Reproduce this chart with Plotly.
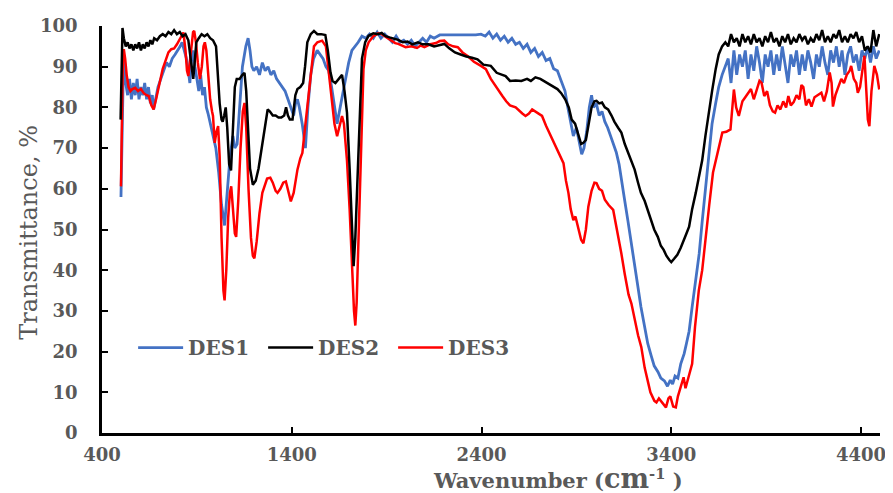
import plotly.graph_objects as go

# ---------------- data ----------------
series_names = ["DES1", "DES2", "DES3"]
series_colors = ["#4472C4", "#000000", "#FF0000"]

wn_des1 = [500, 505, 512, 518, 525, 535, 545, 555, 565, 575,
           585, 595, 605, 615, 625, 635, 645, 655, 665, 672,
           682, 695, 710, 725, 740, 755, 770, 785, 800, 812,
           822, 835, 845, 855, 863, 872, 880, 890, 900, 910,
           920, 930, 940, 950, 959, 970, 985, 1000, 1015, 1030,
           1046, 1060, 1075, 1090, 1100, 1112, 1125, 1140, 1158, 1170,
           1180, 1190, 1200, 1215, 1230, 1245, 1260, 1275, 1290, 1305,
           1320, 1335, 1350, 1365, 1380, 1395, 1410, 1420, 1430, 1440,
           1455, 1472, 1485, 1500, 1515, 1534, 1550, 1565, 1580, 1595,
           1610, 1625, 1639, 1655, 1670, 1685, 1700, 1717, 1735, 1750,
           1770, 1790, 1810, 1830, 1850, 1870, 1890, 1910, 1930, 1950,
           1970, 1990, 2010, 2030, 2050, 2070, 2090, 2110, 2130, 2150,
           2180, 2370, 2397, 2420, 2440, 2460, 2480, 2500, 2520, 2540,
           2560, 2580, 2600, 2620, 2640, 2660, 2680, 2700, 2720, 2740,
           2760, 2780, 2800, 2820, 2840, 2855, 2870, 2884, 2900, 2915,
           2928, 2940, 2954, 2968, 2980, 2990, 3005, 3020, 3035, 3050,
           3065, 3080, 3095, 3110, 3125, 3140, 3155, 3172, 3190, 3207,
           3224, 3240, 3260, 3276, 3294, 3310, 3330, 3345, 3364, 3380,
           3395, 3407, 3420, 3435, 3450, 3468, 3480, 3494, 3510, 3529,
           3547, 3563, 3580, 3599, 3615, 3634, 3650, 3668, 3685, 3700,
           3715, 3730, 3745, 3760, 3775, 3790, 3805, 3820, 3835, 3850,
           3865, 3880, 3895, 3910, 3925, 3940, 3955, 3970, 3985, 4000,
           4015, 4030, 4045, 4060, 4075, 4090, 4105, 4120, 4135, 4150,
           4165, 4180, 4195, 4210, 4225, 4240, 4255, 4270, 4285, 4300,
           4315, 4330, 4345, 4360, 4375, 4390, 4405, 4420, 4435, 4450,
           4465, 4480, 4496]
t_des1 = [58, 75, 88, 92, 86, 83, 87, 82, 86, 83,
          87, 82, 85, 83, 86, 82, 85, 81, 83, 79.5,
          82, 85, 87, 89, 91, 90, 92, 93, 94, 95,
          96, 94, 92, 89, 86, 92, 94, 90, 87, 84,
          88, 83, 85, 80, 78.5, 76, 73, 70, 64, 56,
          51, 60, 68, 73, 70, 71, 80, 90, 95, 97,
          94, 90, 89, 90, 88, 91, 89, 90, 88, 89,
          87, 86, 85, 84, 82, 80, 78, 81, 82, 80,
          76, 70, 80, 88, 92, 94, 93, 92, 90, 89,
          85, 80, 76, 80, 84, 87, 91, 94, 95, 96,
          97.5, 97, 98, 97, 98.5, 97, 98, 97, 96, 97.5,
          96, 96.5, 95.5, 96.5, 95, 96, 97, 96, 97.5, 97,
          97.8, 97.8, 98, 97.5, 98.5, 97, 98, 96.5, 97.5, 96,
          97, 95.5, 96, 94.5, 95.5, 93.5, 94.5, 92.5, 93.5, 91.5,
          92, 89.5, 89, 86.5, 84, 80, 76, 73, 75, 71,
          68.5, 70, 74, 80, 83, 80, 81, 78, 79, 76.5,
          75, 73, 71, 69, 66, 62, 57, 52, 46, 41,
          36, 31, 26, 22, 19, 16.5, 15, 13.5, 12.8, 11.5,
          13, 12, 14, 13.5, 17, 19.5, 22, 25, 31, 38,
          44, 52, 60, 69, 76, 81, 85, 88, 90, 92,
          86, 94, 88, 93, 90, 94, 87, 93, 89, 95,
          91, 86, 93, 90, 94, 88, 93, 89, 95, 91,
          86, 93, 90, 94, 88, 93, 89, 94, 91, 87,
          93, 90, 95, 91, 88, 94, 91, 95, 90, 94,
          88, 93, 95, 91, 93, 89, 94, 92, 95, 91,
          95, 92, 94]

wn_des2 = [498, 503, 508, 515, 525, 535, 545, 555, 565, 575,
           585, 595, 605, 615, 625, 635, 645, 655, 665, 675,
           690, 705, 720, 735, 750, 765, 780, 795, 810, 825,
           840, 855, 868, 881, 890, 897, 910, 925, 940, 955,
           970, 985, 1001, 1010, 1020, 1030, 1036, 1044, 1052, 1060,
           1070, 1080, 1090, 1100, 1110, 1125, 1140, 1151, 1160, 1170,
           1180, 1195, 1210, 1225, 1237, 1250, 1265, 1273, 1285, 1300,
           1315, 1330, 1345, 1360, 1370, 1380, 1390, 1404, 1419, 1430,
           1445, 1460, 1470, 1482, 1500, 1517, 1535, 1555, 1577, 1590,
           1604, 1615, 1630, 1648, 1665, 1678, 1691, 1705, 1716, 1726,
           1735, 1745, 1752, 1760, 1770, 1787, 1805, 1830, 1855, 1874,
           1895, 1915, 1940, 1961, 1985, 2010, 2035, 2065, 2090, 2120,
           2150, 2180, 2204, 2230, 2260, 2290, 2320, 2350, 2379, 2410,
           2449, 2480, 2510, 2527, 2550, 2580, 2610, 2640, 2660, 2684,
           2710, 2740, 2771, 2800, 2820, 2841, 2860, 2875, 2893, 2910,
           2925, 2937, 2950, 2965, 2980, 2995, 3006, 3020, 3035, 3050,
           3067, 3085, 3100, 3120, 3137, 3155, 3175, 3190, 3207, 3225,
           3240, 3260, 3276, 3295, 3310, 3329, 3345, 3360, 3375, 3390,
           3400, 3415, 3432, 3450, 3468, 3480, 3494, 3510, 3529, 3545,
           3563, 3580, 3599, 3615, 3634, 3650, 3668, 3685, 3700, 3715,
           3730, 3745, 3760, 3775, 3790, 3805, 3820, 3835, 3850, 3865,
           3880, 3895, 3910, 3925, 3940, 3955, 3970, 3985, 4000, 4015,
           4030, 4045, 4060, 4075, 4090, 4105, 4120, 4135, 4150, 4165,
           4180, 4195, 4210, 4225, 4240, 4255, 4270, 4285, 4300, 4315,
           4330, 4345, 4360, 4375, 4390, 4405, 4420, 4435, 4450, 4465,
           4480, 4496]
t_des2 = [77, 90, 99.5, 97, 95, 96, 94.5, 95.5, 94, 95.5,
          94.5, 96, 94, 95.5, 94.5, 96, 95, 96.5, 95.5, 97,
          96.5, 97.5, 98, 97.5, 98.5, 98, 99, 98, 98.5, 97.5,
          98, 96.5, 92, 87, 92, 96, 97, 98, 97.5, 98,
          97, 96.5, 95, 88, 81, 77, 76.5, 78, 80, 75,
          66, 64.5, 75, 85, 87, 87, 88, 88.5, 84, 74,
          65, 61, 62, 65, 68.8, 73, 77, 79.5, 79, 78,
          78, 77.5, 77.5, 78, 80, 78, 77, 77, 83, 84.5,
          85, 86, 90, 96, 98, 98.8, 98, 98, 97.8, 94,
          88.6, 86.5, 86, 87, 88, 84, 78.7, 65, 52, 41,
          48, 62, 68.8, 82, 92, 96, 97.6, 98.2, 98, 98.3,
          97.5, 97.2, 96.8, 96.6, 96, 96.2, 95.5, 96, 95.5, 95.5,
          95, 95.3, 95.6, 94.5, 93.5, 93, 92.5, 92.2, 91.8, 90.5,
          90.2, 88.5, 88, 87.7, 86.5, 86.6, 86.5, 87, 86.5, 87.4,
          87, 86.2, 85.3, 84.5, 83.5, 82, 80, 77, 76, 73,
          71, 71.3, 72, 76, 80, 81.5, 81.6, 81, 81.2, 80,
          79.5, 78, 76.5, 75, 73.8, 71, 68.5, 66.5, 64.7, 61.5,
          59, 57, 54.8, 52, 50, 48.2, 46, 45, 43.5, 42.5,
          42, 42.8, 43.8, 45.5, 47.4, 49, 50.7, 55, 59, 63,
          67, 73, 79.5, 84, 89.4, 93, 95, 96, 95, 98,
          96, 97, 95, 98, 96, 97.5, 95.5, 98, 96, 97,
          95, 97.5, 96, 98.5, 96, 97, 95, 97.5, 96, 98,
          95.5, 97, 96, 98, 96.5, 97.5, 95.5, 97, 96, 98,
          96.5, 99, 96, 97.5, 96, 98, 97, 99, 96, 97.5,
          96, 98, 97, 98.5, 96, 97.5, 94, 95, 93.5, 99,
          95, 98]

wn_des3 = [500, 505, 510, 515, 522, 530, 540, 550, 560, 575,
           590, 605, 620, 635, 646, 660, 672, 685, 697, 707,
           720, 735, 750, 765, 780, 795, 808, 818, 829, 840,
           848, 855, 864, 872, 880, 886, 895, 905, 916, 926,
           935, 942, 950, 960, 970, 980, 985, 994, 1003, 1012,
           1020, 1030, 1040, 1046, 1055, 1065, 1074, 1081, 1090, 1100,
           1107, 1118, 1130, 1142, 1151, 1160, 1172, 1185, 1195, 1203,
           1215, 1230, 1245, 1256, 1270, 1287, 1300, 1315, 1325, 1340,
           1355, 1369, 1380, 1395, 1410, 1430, 1445, 1456, 1470, 1482,
           1491, 1505, 1517, 1535, 1560, 1580, 1595, 1605, 1613, 1625,
           1639, 1650, 1665, 1675, 1691, 1705, 1718, 1728, 1735, 1742,
           1752, 1761, 1770, 1778, 1790, 1805, 1830, 1855, 1874, 1900,
           1925, 1945, 1961, 1980, 2000, 2031, 2060, 2080, 2099, 2130,
           2160, 2180, 2204, 2225, 2250, 2275, 2300, 2330, 2360, 2397,
           2423, 2449, 2470, 2490, 2510, 2530, 2550, 2580, 2600, 2615,
           2632, 2650, 2667, 2690, 2719, 2740, 2760, 2771, 2790, 2810,
           2832, 2845, 2858, 2870, 2884, 2895, 2910, 2925, 2937, 2950,
           2963, 2980, 2995, 3006, 3020, 3035, 3050, 3070, 3094, 3110,
           3125, 3137, 3155, 3175, 3190, 3210, 3225, 3242, 3260, 3276,
           3290, 3311, 3322, 3335, 3350, 3360, 3372, 3385, 3395, 3410,
           3424, 3435, 3450, 3465, 3475, 3494, 3510, 3525, 3545, 3563,
           3580, 3600, 3620, 3643, 3669, 3690, 3712, 3730, 3742, 3756,
           3775, 3790, 3808, 3820, 3835, 3850, 3865, 3876, 3890, 3905,
           3920, 3935, 3947, 3960, 3975, 3990, 4005, 4017, 4030, 4045,
           4060, 4075, 4086, 4096, 4110, 4125, 4139, 4155, 4170, 4191,
           4205, 4220, 4235, 4245, 4252, 4265, 4280, 4296, 4310, 4325,
           4340, 4348, 4362, 4375, 4383, 4395, 4410, 4418, 4428, 4436,
           4444, 4455, 4470, 4484, 4496]
t_des3 = [60.6, 80, 92, 94.3, 92, 88, 85, 84, 84.5, 84.8,
          84, 84.5, 83.5, 83, 82.8, 80.5, 79.5, 82, 84.5, 87,
          89.5, 91.5, 93.5, 94.3, 94.5, 95.5, 96.5, 97.5, 98.4, 94,
          89, 87.7, 92, 96, 98.5, 98.8, 96, 91, 87, 90,
          95, 96, 94, 88, 82, 79, 77.9, 71.3, 74, 75.4,
          68, 48, 35, 32.6, 40, 53, 59, 60.6, 55, 49,
          48.2, 57, 70, 79, 81.1, 75, 60, 48, 43.5, 42.9,
          47, 54, 59, 60.6, 62.5, 62.7, 61.5, 59.5, 59, 60,
          61.5, 61.8, 59.5, 56.9, 59, 64.7, 67.5, 68.8, 75, 80,
          85.3, 91, 95, 96, 96.4, 95, 89, 84, 81.1, 76,
          72.9, 75, 77.9, 76, 67, 55, 40, 30, 26.4, 32,
          48, 60.6, 78, 89.4, 94, 96, 97.5, 98.2, 98, 97.2,
          96.5, 95.8, 95.6, 95.2, 94.8, 95, 94.6, 95.2, 94.8, 95.5,
          95.8, 96.3, 96.4, 95.5, 95, 94.8, 93.5, 92.5, 91.2, 90.2,
          89.4, 87, 85.5, 84, 82.8, 81.5, 80.5, 80, 79, 78.5,
          77.9, 78.5, 79.5, 78.8, 77.9, 75.5, 73.5, 72.1, 70.5, 68.5,
          66.3, 62, 59, 55, 52.3, 53.2, 50, 47.5, 46.6, 50,
          55.6, 59.5, 61.5, 61.4, 60, 59.5, 57.3, 56, 54.8, 51,
          47, 44.1, 39, 34, 31.8, 27, 24, 21.1, 16, 12.8,
          10, 7.9, 7.5, 8.5, 7.5, 6.8, 6.3, 8.5, 9, 6.5,
          6.3, 9, 11.2, 13.7, 11, 14, 17, 26, 35, 40,
          48, 56, 64, 68.8, 73.8, 74, 74.6, 84.4, 80, 77.9,
          81.5, 82.5, 83.6, 84.5, 82, 84, 86.5, 86, 82.8, 84,
          80.5, 79, 78.7, 80.5, 79.5, 81.5, 80, 82.8, 80.5, 81.3,
          83, 82, 85.5, 85, 80.5, 82, 80.2, 82.5, 83, 83.6,
          81.5, 84, 88.6, 86, 80.2, 83, 85, 87, 86, 88,
          89, 90.2, 87, 86, 83.6, 85, 90, 92.7, 84, 77,
          75.4, 84, 90.2, 88, 84.4]

x_tick_vals = [400, 1400, 2400, 3400, 4400]
y_tick_vals = [0, 10, 20, 30, 40, 50, 60, 70, 80, 90, 100]

# ---------------- figure ----------------
GRAY = "#595959"
FONT = "DejaVu Serif"

fig = go.Figure()
all_x = [wn_des1, wn_des2, wn_des3]
all_y = [t_des1, t_des2, t_des3]
line_widths = [2.8, 2.5, 2.5]
draw_order = [0, 2, 1]   # blue, red, black on top
for i in draw_order:
    fig.add_trace(go.Scatter(
        x=all_x[i], y=all_y[i], mode="lines", name=series_names[i],
        line=dict(color=series_colors[i], width=line_widths[i]),
        legendrank=i + 1,
    ))

# the page body has a margin, so the figure is drawn a few px in from the corner
fig.update_layout(
    width=885, height=485,
    margin=dict(l=94, r=7, t=16, b=60),
    paper_bgcolor="white", plot_bgcolor="white",
    font=dict(family=FONT, color=GRAY),
    showlegend=True,
    legend=dict(
        orientation="h", x=0.04, y=0.21, xanchor="left", yanchor="middle",
        bgcolor="rgba(0,0,0,0)",
        font=dict(family=FONT, size=20, color=GRAY, weight="bold"),
        entrywidth=70, entrywidthmode="pixels", itemwidth=45,
    ),
    xaxis=dict(
        range=[400, 4500], tickvals=x_tick_vals,
        ticktext=[str(v) for v in x_tick_vals],
        showgrid=False, zeroline=False,
        showline=True, linecolor="black", linewidth=2.5,
        ticks="inside", ticklen=6, tickwidth=2, tickcolor="black",
        tickfont=dict(family=FONT, size=18, color=GRAY, weight="bold"),
        ticklabelstandoff=4,
    ),
    yaxis=dict(
        range=[0, 100], tickvals=y_tick_vals,
        showgrid=False, zeroline=False,
        showline=True, linecolor="black", linewidth=2.5,
        ticks="inside", ticklen=6, tickwidth=2, tickcolor="black",
        tickfont=dict(family=FONT, size=18, color=GRAY, weight="bold"),
        ticklabelstandoff=18,
    ),
    annotations=[
        dict(text="<b>Wavenumber (<span style='font-size:27px'>cm</span><sup>-1</sup> )</b>",
             xref="paper", yref="paper", x=0.586, y=-0.112,
             xanchor="center", yanchor="middle", showarrow=False,
             font=dict(family=FONT, size=21, color=GRAY)),
        dict(text="Transmittance, %", textangle=-90,
             xref="paper", yref="paper", x=-0.094, y=0.494,
             xanchor="center", yanchor="middle", showarrow=False,
             font=dict(family=FONT, size=24, color=GRAY)),
    ],
)

fig.write_html("out.html")
